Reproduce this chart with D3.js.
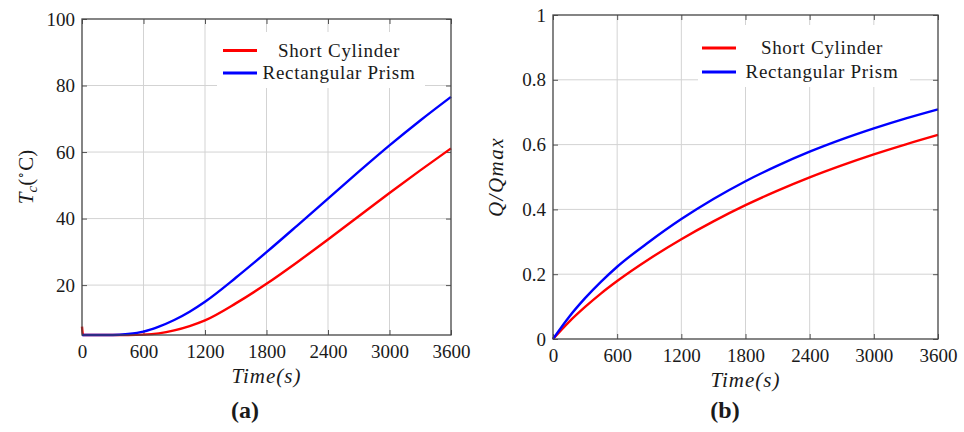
<!DOCTYPE html>
<html>
<head>
<meta charset="utf-8">
<script src="https://cdn.jsdelivr.net/npm/d3@7"></script>
<style>
  body { margin: 0; background: #fff; }
</style>
</head>
<body>
<div id="chart"></div>
<script>
// panel (a): core temperature
const timeA = [0, 10, 300, 450, 600, 750, 900, 1050, 1200, 1500, 1800, 2100, 2400, 2700, 3000, 3300, 3600];
const tcCylinder = [7.5, 5, 5, 5, 5.1, 5.5, 6.4, 7.7, 9.4, 14.5, 20.4, 26.9, 33.7, 40.7, 47.7, 54.5, 61.1];
const tcPrism = [5, 5, 5, 5.3, 6, 7.5, 9.5, 12, 15, 22.2, 29.9, 37.9, 46, 54.1, 62, 69.5, 76.6];

// panel (b): heat ratio
const timeB = [0, 150, 300, 450, 600, 900, 1200, 1500, 1800, 2100, 2400, 2700, 3000, 3300, 3600];
const qCylinder = [0, 0.053, 0.099, 0.141, 0.179, 0.247, 0.308, 0.363, 0.413, 0.458, 0.499, 0.536, 0.57, 0.601, 0.63];
const qPrism = [0, 0.068, 0.126, 0.177, 0.223, 0.3, 0.37, 0.432, 0.487, 0.535, 0.578, 0.616, 0.65, 0.681, 0.709];

const xTicks = [0, 600, 1200, 1800, 2400, 3000, 3600];
const yTicksA = [20, 40, 60, 80, 100];
const yTicksB = [0, 0.2, 0.4, 0.6, 0.8, 1];
const seriesNames = ['Short Cylinder', 'Rectangular Prism'];
const colors = ['#ff0000', '#0000ff'];

const FONT = '"Liberation Serif", "Times New Roman", serif';
const TXT = '#1a1a1a';

const width = 964, height = 432;
const svg = d3.select('#chart').append('svg')
  .attr('width', width)
  .attr('height', height);

function drawPanel(p) {
  const x = d3.scaleLinear().domain([0, 3600]).range([p.left, p.right]);
  const y = d3.scaleLinear().domain(p.yDomain).range([p.bottom, p.top]);
  const g = svg.append('g');

  // grid
  g.selectAll('.vgrid').data(xTicks.slice(1, -1)).enter().append('line')
    .attr('x1', d => x(d)).attr('x2', d => x(d))
    .attr('y1', p.top).attr('y2', p.bottom)
    .attr('stroke', '#d3d3d3').attr('stroke-width', 1);
  g.selectAll('.hgrid').data(p.yTicks.filter(d => d > p.yDomain[0] && d < p.yDomain[1])).enter().append('line')
    .attr('x1', p.left).attr('x2', p.right)
    .attr('y1', d => y(d)).attr('y2', d => y(d))
    .attr('stroke', '#d3d3d3').attr('stroke-width', 1);

  // inward ticks on all four sides
  const tl = 5;
  const axisB = d3.axisBottom(x).tickValues(xTicks).tickSize(-tl).tickPadding(10).tickFormat(d3.format('d'));
  const axisT = d3.axisTop(x).tickValues(xTicks).tickSize(-tl).tickFormat('');
  const axisL = d3.axisLeft(y).tickValues(p.yTicks).tickSize(-tl).tickPadding(7).tickFormat(p.fmt);
  const axisR = d3.axisRight(y).tickValues(p.yTicks).tickSize(-tl).tickFormat('');

  const styleAxis = sel => {
    sel.attr('font-family', FONT);
    sel.select('.domain').remove();
    sel.selectAll('line').attr('stroke', '#555').attr('stroke-width', 1);
    sel.selectAll('text')
      .style('font-family', FONT)
      .style('font-size', '19px')
      .attr('fill', TXT);
  };
  g.append('g').attr('transform', `translate(0,${p.bottom})`).call(axisB).call(styleAxis);
  g.append('g').attr('transform', `translate(0,${p.top})`).call(axisT).call(styleAxis);
  g.append('g').attr('transform', `translate(${p.left},0)`).call(axisL).call(styleAxis);
  g.append('g').attr('transform', `translate(${p.right},0)`).call(axisR).call(styleAxis);

  // legend box (white, covers grid)
  g.append('rect')
    .attr('x', p.legend.x0).attr('y', p.legend.y0)
    .attr('width', p.legend.x1 - p.legend.x0).attr('height', p.legend.y1 - p.legend.y0)
    .attr('fill', '#fff');

  // curves
  const line = d3.line()
    .x(d => x(d[0]))
    .y(d => y(d[1]))
    .curve(d3.curveMonotoneX);
  p.series.forEach((vals, i) => {
    g.append('path')
      .datum(p.time.map((t, k) => [t, vals[k]]))
      .attr('d', line)
      .attr('fill', 'none')
      .attr('stroke', colors[i])
      .attr('stroke-width', 2.4);
  });

  // frame
  g.append('rect')
    .attr('x', p.left).attr('y', p.top)
    .attr('width', p.right - p.left).attr('height', p.bottom - p.top)
    .attr('fill', 'none').attr('stroke', '#444').attr('stroke-width', 1.3);

  // legend entries
  const lg = g.append('g');
  seriesNames.forEach((name, i) => {
    const ly = p.legend.rowY[i];
    lg.append('line')
      .attr('x1', p.legend.lineX).attr('x2', p.legend.lineX + 34)
      .attr('y1', ly).attr('y2', ly)
      .attr('stroke', colors[i]).attr('stroke-width', 3);
    lg.append('text')
      .attr('x', p.legend.textX).attr('y', ly + 6)
      .attr('text-anchor', 'middle')
      .attr('fill', TXT)
      .style('font-family', FONT)
      .style('font-size', '19px')
      .style('letter-spacing', '0.7px')
      .text(name);
  });

  // x label
  g.append('text')
    .attr('x', (p.left + p.right) / 2).attr('y', p.bottom + 48)
    .attr('text-anchor', 'middle')
    .attr('fill', TXT)
    .style('font-family', FONT)
    .style('font-size', '21px').style('font-style', 'italic').style('letter-spacing', '1px')
    .text('Time(s)');

  // y label
  const yl = g.append('text')
    .attr('transform', `translate(${p.yLabelX},${(p.top + p.bottom) / 2}) rotate(-90)`)
    .attr('text-anchor', 'middle')
    .attr('fill', TXT)
    .style('font-family', FONT)
    .style('font-size', '21px');
  p.yLabel(yl);

  // panel caption
  g.append('text')
    .attr('x', p.captionX).attr('y', 418)
    .attr('text-anchor', 'middle')
    .attr('fill', TXT)
    .style('font-family', FONT)
    .style('font-size', '24px').style('font-weight', 'bold')
    .text(p.caption);
}

drawPanel({
  left: 82, right: 451, top: 19, bottom: 335,
  yDomain: [5, 100], yTicks: yTicksA, fmt: d3.format('d'),
  time: timeA, series: [tcCylinder, tcPrism],
  legend: { x0: 217, x1: 425, y0: 32, y1: 88, rowY: [50.5, 73], lineX: 223, textX: 339 },
  yLabelX: 33,
  yLabel: t => {
    t.append('tspan').style('font-style', 'italic').text('T');
    t.append('tspan').style('font-style', 'italic').style('font-size', '15px').attr('dy', 4).text('c');
    t.append('tspan').attr('dy', -4).text('(');
    t.append('tspan').style('font-size', '12px').attr('dy', -8).text('∘');
    t.append('tspan').attr('dy', 8).text('C)');
  },
  captionX: 245, caption: '(a)'
});

drawPanel({
  left: 553, right: 938, top: 15, bottom: 339,
  yDomain: [0, 1], yTicks: yTicksB, fmt: d => d === 0 || d === 1 ? d3.format('d')(d) : d3.format('.1f')(d),
  time: timeB, series: [qCylinder, qPrism],
  legend: { x0: 698, x1: 910, y0: 25, y1: 87, rowY: [48, 72], lineX: 702, textX: 822 },
  yLabelX: 503,
  yLabel: t => {
    t.style('font-style', 'italic').style('letter-spacing', '1.5px').text('Q/Qmax');
  },
  captionX: 725, caption: '(b)'
});
</script>
</body>
</html>
